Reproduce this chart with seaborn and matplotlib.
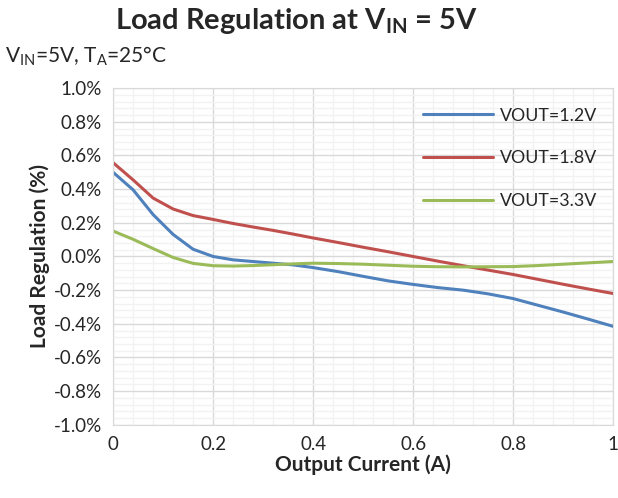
import matplotlib

matplotlib.use("Agg")

import matplotlib.pyplot as plt
import pandas as pd
import seaborn as sns
from matplotlib.ticker import MultipleLocator, FuncFormatter

# output current (A) and load regulation (%)
current = [0.0, 0.04, 0.08, 0.12, 0.16, 0.2, 0.24, 0.28, 0.32, 0.36, 0.4,
           0.45, 0.5, 0.55, 0.6, 0.65, 0.7, 0.75, 0.8, 0.85, 0.9, 0.95, 1.0]
reg_1v2 = [0.50, 0.396, 0.249, 0.131, 0.043, 0.0, -0.02, -0.03, -0.04, -0.05, -0.066,
           -0.09, -0.118, -0.145, -0.166, -0.185, -0.20, -0.222, -0.25, -0.29, -0.33,
           -0.372, -0.415]
reg_1v8 = [0.557, 0.455, 0.347, 0.282, 0.243, 0.22, 0.196, 0.175, 0.155, 0.133, 0.11,
           0.083, 0.055, 0.028, 0.0, -0.028, -0.055, -0.081, -0.107, -0.136, -0.165,
           -0.193, -0.22]
reg_3v3 = [0.151, 0.102, 0.047, -0.006, -0.041, -0.055, -0.057, -0.054, -0.049, -0.044, -0.04,
           -0.042, -0.046, -0.052, -0.058, -0.061, -0.062, -0.061, -0.06, -0.054, -0.046,
           -0.038, -0.03]
series_names = ["VOUT=1.2V", "VOUT=1.8V", "VOUT=3.3V"]
colors = ["#4F81BD", "#C0504D", "#9BBB59"]

df = pd.concat(
    [
        pd.DataFrame({"current": current, "reg": vals, "series": name})
        for name, vals in zip(series_names, [reg_1v2, reg_1v8, reg_3v3])
    ]
)

sns.set_style("white")
plt.rcParams["font.family"] = ["Lato", "DejaVu Sans"]
plt.rcParams["mathtext.fontset"] = "custom"
plt.rcParams["mathtext.rm"] = "Lato"
plt.rcParams["mathtext.bf"] = "Lato:bold"

fig = plt.figure(figsize=(6.18, 4.98), dpi=100)
ax = fig.add_axes([0.183, 0.147, 0.809, 0.676])

sns.lineplot(
    data=df, x="current", y="reg", hue="series", palette=colors,
    linewidth=2.2, ax=ax, sort=False,
)

ax.set_xlim(0, 1)
ax.set_ylim(-1.0, 1.0)
ax.xaxis.set_major_locator(MultipleLocator(0.2))
ax.xaxis.set_minor_locator(MultipleLocator(0.04))
ax.yaxis.set_major_locator(MultipleLocator(0.2))
ax.yaxis.set_minor_locator(MultipleLocator(0.04))
ax.xaxis.set_major_formatter(FuncFormatter(lambda v, _: f"{v:g}"))
ax.yaxis.set_major_formatter(FuncFormatter(lambda v, _: f"{v:.1f}%"))
ax.grid(which="minor", color="#F2F2F2", linewidth=1.0)
ax.grid(which="major", color="#D9D9D9", linewidth=1.0)
ax.set_axisbelow(True)
for s in ax.spines.values():
    s.set_color("#D9D9D9")
ax.tick_params(which="both", length=0, labelsize=13.5, pad=8)

ax.set_xlabel("Output Current (A)", fontsize=15, fontweight="bold", labelpad=1)
ax.set_ylabel("Load Regulation (%)", fontsize=15, fontweight="bold", labelpad=3)

leg = ax.legend(
    loc="upper right", frameon=False, fontsize=12.8, labelspacing=1.5,
    handlelength=3.9, handletextpad=0.4, bbox_to_anchor=(1.0, 0.99),
)

fig.text(0.479, 0.958, r"Load Regulation at V$_{\mathbf{IN}}$ = 5V",
         ha="center", va="center", fontsize=21, fontweight="bold")
fig.text(0.008, 0.888, r"V$_{\rm IN}$=5V, T$_{\rm A}$=25°C",
         ha="left", va="center", fontsize=15)

fig.savefig("out.png", dpi=100)
